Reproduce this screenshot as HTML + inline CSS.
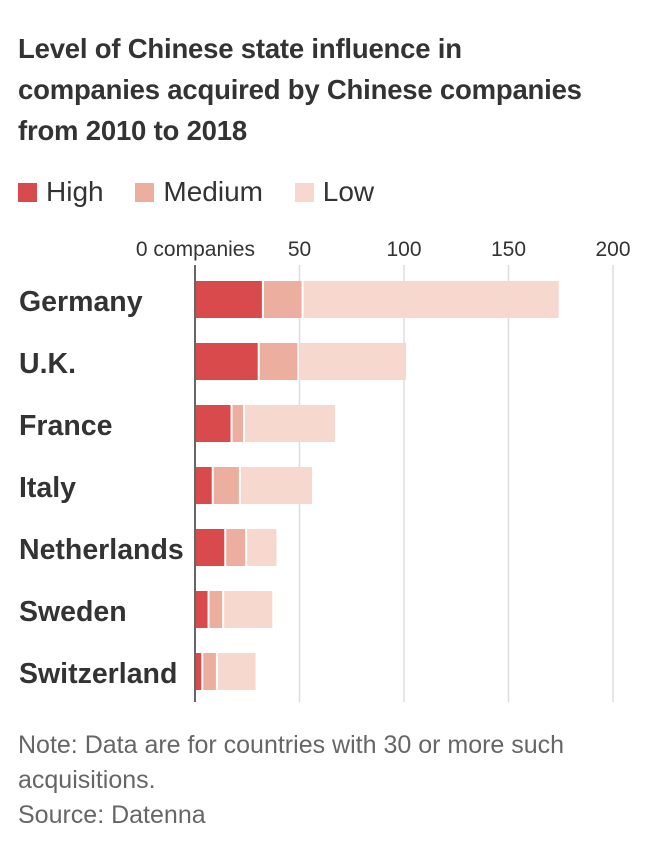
<!DOCTYPE html>
<html><head><meta charset="utf-8">
<style>
body{margin:0;background:#fff;width:652px;height:856px;overflow:hidden;font-family:"Liberation Sans",sans-serif;color:#333}
#title{position:absolute;left:18px;top:28px;font-size:27.5px;font-weight:bold;line-height:41px;color:#333;letter-spacing:-0.2px;white-space:nowrap}
#legend{position:absolute;left:18px;top:176px;font-size:28px;color:#333;white-space:nowrap}
.li{display:inline-block;margin-right:24px}
.sw{display:inline-block;width:19px;height:19px;margin-right:9px;vertical-align:-1px}
#note{position:absolute;left:18px;top:728px;font-size:25px;line-height:35px;color:#666;white-space:nowrap}
</style></head><body>
<div id="title">Level of Chinese state influence in<br>companies acquired by Chinese companies<br>from 2010 to 2018</div>
<div id="legend">
<span class="li"><span class="sw" style="background:#d94a4c"></span>High</span>
<span class="li"><span class="sw" style="background:#ecaf9f"></span>Medium</span>
<span class="li"><span class="sw" style="background:#f6d8cf"></span>Low</span>
</div>
<svg id="chart" width="652" height="856" style="position:absolute;left:0;top:0"></svg>
<div id="note">Note: Data are for countries with 30 or more such<br>acquisitions.<br>Source: Datenna</div>
<script>
const categories=["Germany","U.K.","France","Italy","Netherlands","Sweden","Switzerland"];
const high=[32,30,17,8,14,6,3];
const medium=[19,19,6,13,10,7,7];
const low=[123,52,44,35,15,24,19];
const ticks=[0,50,100,150,200];
const tickLabels=["0 companies","50","100","150","200"];
const colors=["#d94a4c","#ecaf9f","#f6d8cf"];
const svg=document.getElementById('chart');
const NS="http://www.w3.org/2000/svg";
const x=v=>195+v*2.09;
const yRow=i=>281+i*62;
function mk(t,a){const e=document.createElementNS(NS,t);for(const k in a)e.setAttribute(k,a[k]);svg.appendChild(e);return e;}
ticks.forEach((t,i)=>{
  if(t>0){const g=mk('line',{x1:x(t),x2:x(t),y1:265,y2:702,stroke:'#ddd','stroke-width':1.5});
  
  }
  const tx=mk('text',{x:t===0?x(t)+60:x(t),y:256,'text-anchor':t===0?'end':'middle','font-size':21,fill:'#333','font-family':'Liberation Sans Narrow, Liberation Sans, sans-serif'});
  tx.textContent=tickLabels[i];
  
  
});
categories.forEach((c,i)=>{
  const y=yRow(i);
  const lab=mk('text',{x:19,y:y+30,'font-size':28.5,'font-weight':'bold',fill:'#333'});
  lab.textContent=c;
  
  
  const segs=[high[i],medium[i],low[i]];
  let acc=0;
  segs.forEach((v,j)=>{
    const x0=x(acc)+(j===0?1:2), x1=x(acc+v);
    const r=mk('rect',{x:x0,y:y,width:Math.max(0,x1-x0),height:37,fill:colors[j]});
    
    
    acc+=v;
  });
});
const ax=mk('line',{x1:x(0),x2:x(0),y1:265,y2:702,stroke:'#333','stroke-width':1.5});


</script>
</body></html>
